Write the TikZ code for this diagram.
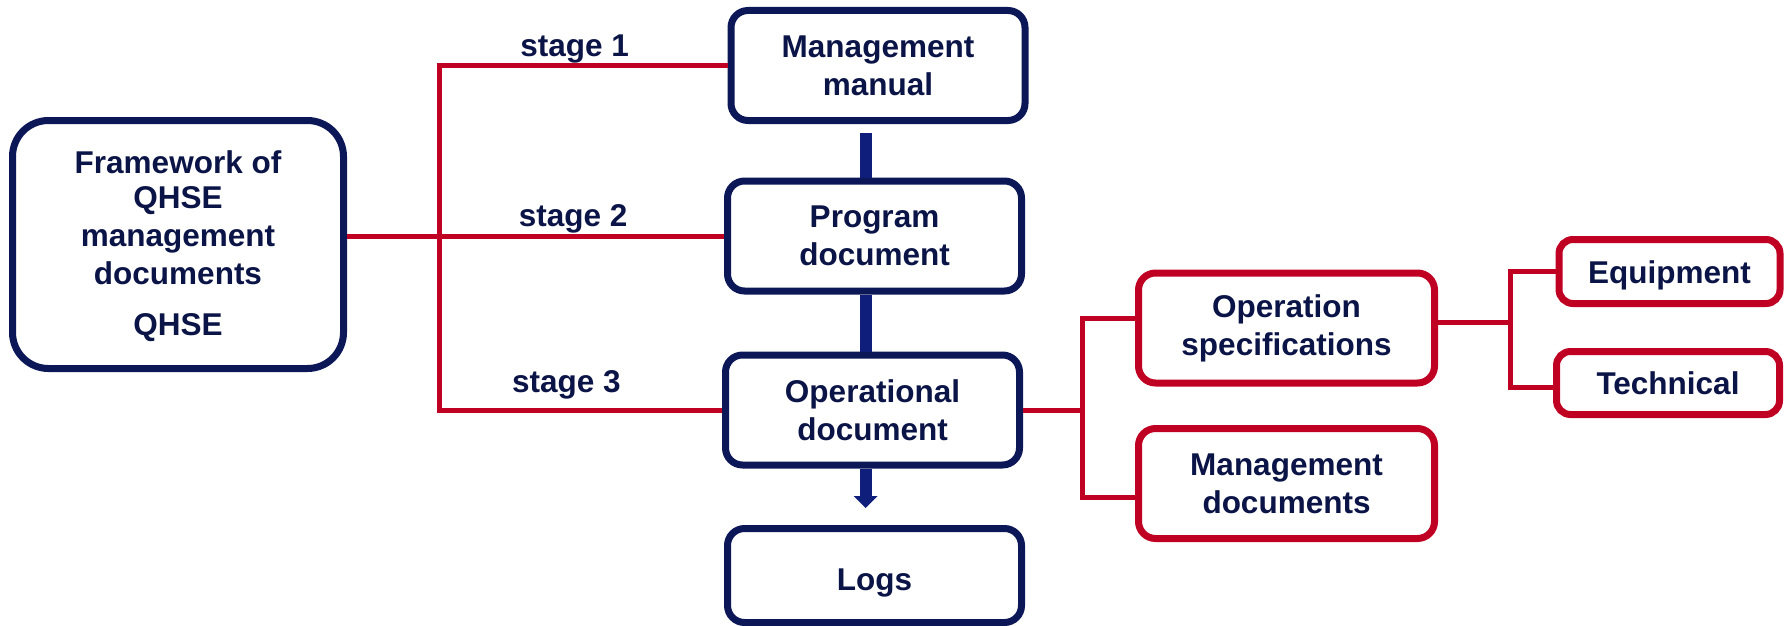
\documentclass[tikz,border=0pt]{standalone}
\usepackage{fontspec}
\setmainfont{Liberation Sans}
\usepackage{tikz}
\usetikzlibrary{positioning, arrows.meta, calc}
\definecolor{navy}{HTML}{0C1757}
\definecolor{inkblue}{HTML}{0B1446}
\definecolor{barblue}{HTML}{0F1E7A}
\definecolor{qred}{HTML}{C00022}
\tikzset{
    %Define style for boxes
    box/.style={
           rectangle,
           rounded corners=17pt,
           draw=navy, line width=7pt,
           fill=white,
           text=inkblue,
           font=\fontsize{31.5}{38}\selectfont\bfseries,
           minimum width=294pt,
           minimum height=110pt,
           inner sep=0pt,
           align=center},
 %
  subbox/.style={
           box,
           draw=qred},
 %
  stagelabel/.style={
           text=inkblue,
           font=\fontsize{31.5}{38}\selectfont\bfseries,
           inner sep=0pt},
%
    % Define line styles
    link/.style={
           draw=qred,
           line width=5pt},
    flow/.style={
           draw=barblue,
           line width=12pt}
}

\begin{document}
\begin{tikzpicture}[x=1pt,y=-1pt]
  \useasboundingbox (0,0) rectangle (1788,626);

  % framework and the three stages
  \node[box, minimum width=331pt, minimum height=248pt, rounded corners=36pt] (frame) at (178,244.5)
       {\raisebox{-3pt}[\height][\depth]{Framework of}\\QHSE\\management\\documents\\[13pt]QHSE};
  \node[box] (mman) at (878,65.5) {Management\\manual};
  \node[box] (prog) at (874.5,236) {Program\\document};
  \node[box] (oper) at (872.5,410) {Operational\\document};
  \node[box, minimum height=94pt] (logs) at (874.5,575.5) {\raisebox{-7pt}[\height][\depth]{Logs}};

  % operational branches
  \node[subbox, minimum width=296pt] (ospec) at (1286.5,328) {Operation\\specifications};
  \node[subbox, minimum width=296pt] (mdoc) at (1286.5,483.5) {Management\\documents};
  \node[subbox, minimum width=221pt, minimum height=64pt, rounded corners=14pt] (equip) at (1669.5,271.5)
       {\raisebox{-4pt}[\height][\depth]{Equipment}};
  \node[subbox, minimum width=223pt, minimum height=63pt, rounded corners=14pt] (tech) at (1668,383) {Technical};

  \coordinate (bar) at (439,236);
  \coordinate (fork) at (1082,410);
  \coordinate (fork2) at (1510,322);

  \draw[link] (mman.west) -- node[stagelabel, above, pos=0.53] {stage 1} (mman.west -| bar)
      -- (oper.west -| bar) -- node[stagelabel, above=8pt, pos=0.45] {stage 3} (oper.west);
  \draw[link] (frame.east |- prog) -- node[stagelabel, above, pos=0.6] {stage 2} (prog.west);

  \draw[link] (oper.east) -- (fork);
  \draw[link] ([yshift=10pt]ospec.west) -| (fork) |- ([yshift=-13.5pt]mdoc.west);
  \draw[link] ([yshift=6pt]ospec.east) -- (fork2);
  \draw[link] (equip.west) -| (fork2) |- ([yshift=-4pt]tech.west);

  \draw[flow, shorten <=9pt] ([xshift=-9pt]prog.north |- mman.south) -- ([xshift=-9pt]prog.north);
  \draw[flow] ([xshift=-9pt]prog.south) -- ([xshift=-9pt]prog.south |- oper.north);
  \draw[flow, -{Triangle[width=24pt,length=12pt,line width=0pt]}, shorten >=17pt]
      ([xshift=-9pt]prog.south |- oper.south) -- ([xshift=-9pt]prog.south |- logs.north);
\end{tikzpicture}
\end{document}
